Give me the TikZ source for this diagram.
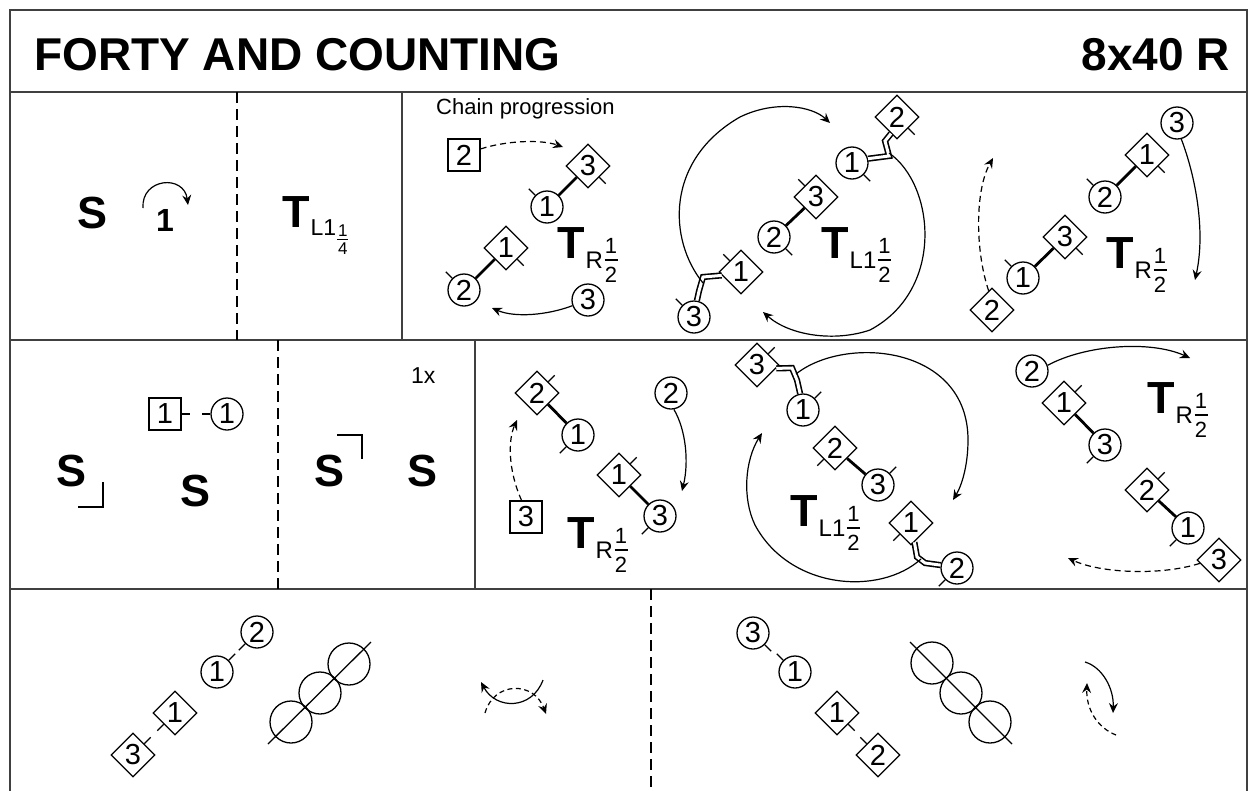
\documentclass[tikz,border=0pt]{standalone}
\usepackage{fontspec}
\setmainfont{Liberation Sans}
\usetikzlibrary{arrows.meta,shapes.geometric}
\newcommand\dig{\fontsize{29}{29}\selectfont}
\newcommand\fracbig[2]{\lower24pt\vbox{\fontsize{22}{22}\selectfont\hbox to 13pt{\hss#1\hss}\kern6pt\hrule height1.2pt\kern6pt\hbox to 13pt{\hss#2\hss}}}
\newcommand\fracsmall[2]{\lower27pt\vbox{\fontsize{17}{17}\selectfont\hbox to 11pt{\hss#1\hss}\kern2.5pt\hrule height1pt\kern2.5pt\hbox to 11pt{\hss#2\hss}}}
\newcommand\Tbig[3]{{\fontsize{45}{45}\selectfont\bfseries T}\kern1pt\raisebox{-10pt}{\fontsize{24}{24}\selectfont #1}\kern1.5pt\fracbig{#2}{#3}}
\newcommand\Tsmall[3]{{\fontsize{45}{45}\selectfont\bfseries T}\kern1pt\raisebox{-8pt}{\fontsize{23}{23}\selectfont #1}\kern1pt\fracsmall{#2}{#3}}
\newcommand\nose[2]{\draw[tk] (#1.#2) -- ++(#2:9pt);}
\begin{document}
\begin{tikzpicture}[x=1pt,y=-1pt,
  frame/.style={line width=2.2pt, draw=black!75},
  sep/.style={line width=1.4pt, dash pattern=on 11pt off 6pt},
  dc/.style={circle, draw, line width=1.3pt, minimum size=32pt, inner sep=0pt, font=\dig},
  ds/.style={rectangle, draw, line width=1.3pt, minimum size=32pt, inner sep=0pt, font=\dig},
  dd/.style={diamond, aspect=1, draw, line width=1.3pt, minimum width=44pt, minimum height=44pt, inner sep=0pt, font=\dig},
  big/.style={circle, draw, line width=1.3pt, minimum size=42pt, inner sep=0pt},
  hand/.style={line width=2.8pt},
  twin/.style={double=white, double distance=3pt, line width=1.6pt},
  tk/.style={line width=1.2pt},
  arr/.style={line width=1.2pt, -{Stealth[length=10pt,width=9pt,inset=3.5pt]}},
  darr/.style={arr, dash pattern=on 6pt off 4pt},
  bigs/.style={font=\fontsize{45}{45}\selectfont\bfseries, inner sep=0pt, anchor=base},
  tl/.style={inner sep=0pt, anchor=base west},
  corner/.style={line width=1.3pt},
]
\useasboundingbox (0,0) rectangle (1249,790);
\clip (0,0) rectangle (1249,790);
% frame
\draw[frame] (10,10) rectangle (1247,810);
\draw[frame] (10,92) -- (1247,92);
\draw[frame] (10,340) -- (1247,340);
\draw[frame] (10,589) -- (1247,589);
\draw[frame] (402,92) -- (402,340);
\draw[frame] (475,340) -- (475,589);
\draw[sep] (237,92) -- (237,340);
\draw[sep] (278,340) -- (278,589);
\draw[sep] (651,589) -- (651,800);
% header
\node[font=\fontsize{46}{46}\selectfont\bfseries, anchor=base west, inner sep=0pt] (title) at (34,70) {FORTY AND COUNTING};
\node[font=\fontsize{46}{46}\selectfont\bfseries, anchor=base east, inner sep=0pt] (code) at (1230,70) {8x40 R};
% row 1 left
\node[bigs] (s1) at (93,228) {S};
\node[font=\fontsize{32}{32}\selectfont\bfseries, anchor=base, inner sep=0pt] (n1) at (165,231) {1};
\coordinate (r_s) at (143,208);
\coordinate (r_t) at (188,205);
\draw[arr] (r_s) .. controls (141,178) and (184,174) .. (r_t);
\node[tl] (t0) at (282,227) {\Tsmall{L1}{1}{4}};
% row 1 panel a
\node[font=\fontsize{22}{22}\selectfont, anchor=base west, inner sep=0pt] (chain) at (436,114) {Chain progression};
\node[ds] (a_b2) at (464,155) {2};
\node[dd] (a_d3) at (588,166) {3};
\node[dc] (a_c1) at (547,207) {1};
\node[dd] (a_d1) at (506,248) {1};
\node[dc] (a_c2) at (464,290) {2};
\node[dc] (a_c3) at (588,300) {3};
\draw[hand] (a_c1) -- (a_d3);
\draw[hand] (a_c2) -- (a_d1);
\nose{a_d3}{-45}\nose{a_c1}{135}\nose{a_d1}{-45}\nose{a_c2}{135}
\coordinate (a_t1) at (563,147);
\coordinate (a_t2) at (492,308);
\draw[darr] (a_b2.20) .. controls (505,141) and (540,139) .. (a_t1);
\draw[arr] (a_c3.200) .. controls (548,315) and (515,318) .. (a_t2);
\node[tl] (a_T) at (557,258) {\Tbig{R}{1}{2}};
% row 1 panel b
\node[dd] (b_d2) at (897,117) {2};
\node[dc] (b_c1) at (852,163) {1};
\node[dd] (b_d3) at (816,197) {3};
\node[dc] (b_c2) at (774,237) {2};
\node[dd] (b_d1) at (741,272) {1};
\node[dc] (b_c3) at (694,317) {3};
\draw[hand] (b_c2) -- (b_d3);
\draw[twin] (b_c1.15) -- (889,156) -- (885,141) -- (b_d2.250);
\draw[twin] (b_d1.190) -- (703,277) -- (699,291) -- (b_c3.80);
\nose{b_d2}{-45}\nose{b_c1}{-45}\nose{b_d3}{135}\nose{b_c2}{-45}\nose{b_d1}{135}\nose{b_c3}{135}
\coordinate (b_s1) at (703,283);
\coordinate (b_t1) at (830,123);
\coordinate (b_s2) at (889,153);
\coordinate (b_t2) at (763,312);
\draw[arr] (b_s1) .. controls (668,240) and (665,160) .. (740,117) .. controls (775,100) and (812,106) .. (b_t1);
\draw[arr] (b_s2) .. controls (935,185) and (945,290) .. (870,330) .. controls (835,342) and (790,336) .. (b_t2);
\node[tl] (b_T) at (821,258) {\Tbig{L1}{1}{2}};
% row 1 panel c
\node[dd] (c_d2) at (992,310) {2};
\node[dc] (c_c1) at (1023,278) {1};
\node[dd] (c_d3) at (1065,237) {3};
\node[dc] (c_c2) at (1105,197) {2};
\node[dd] (c_d1) at (1147,155) {1};
\node[dc] (c_c3) at (1177,123) {3};
\draw[hand] (c_c1) -- (c_d3);
\draw[hand] (c_c2) -- (c_d1);
\nose{c_c1}{135}\nose{c_d3}{-45}\nose{c_c2}{135}\nose{c_d1}{-45}
\coordinate (c_t1) at (993,158);
\coordinate (c_t2) at (1195,280);
\draw[darr] (c_d2.100) .. controls (975,250) and (975,190) .. (c_t1);
\draw[arr] (c_c3.-75) .. controls (1195,175) and (1206,230) .. (c_t2);
\node[tl] (c_T) at (1106,268) {\Tbig{R}{1}{2}};
% row 2 left
\node[ds] (p_b1) at (165,414) {1};
\node[dc] (p_c1) at (227,414) {1};
\draw[tk] (p_b1.east) -- ++(8pt,0pt);
\draw[tk] (p_c1.west) -- ++(-8pt,0pt);
\node[bigs] (s2) at (72,486) {S};
\node[bigs] (s3) at (196,506) {S};
\node[bigs] (s4) at (330,486) {S};
\node[bigs] (s5) at (423,486) {S};
\draw[corner] (78,507) -- (103,507) -- (103,482);
\draw[corner] (337,435) -- (362,435) -- (362,459);
\node[font=\fontsize{23}{23}\selectfont, anchor=base west, inner sep=0pt] (onex) at (411,383) {1x};
% row 2 panel a
\node[dd] (d_d2) at (537,393) {2};
\node[dc] (d_c1) at (578,435) {1};
\node[dd] (d_d1) at (619,475) {1};
\node[dc] (d_c3) at (660,516) {3};
\node[ds] (d_b3) at (526,517) {3};
\node[dc] (d_c2) at (671,393) {2};
\draw[hand] (d_d2) -- (d_c1);
\draw[hand] (d_d1) -- (d_c3);
\nose{d_d2}{45}\nose{d_c1}{-135}\nose{d_d1}{45}\nose{d_c3}{-135}
\coordinate (d_t1) at (517,420);
\coordinate (d_t2) at (682,491);
\draw[darr] (d_b3.105) .. controls (508,470) and (508,440) .. (d_t1);
\draw[arr] (d_c2.-80) .. controls (686,430) and (689,462) .. (d_t2);
\node[tl] (d_T) at (567,548) {\Tbig{R}{1}{2}};
% row 2 panel b
\node[dd] (e_d3) at (757,365) {3};
\node[dc] (e_c1) at (803,410) {1};
\node[dd] (e_d2) at (835,448) {2};
\node[dc] (e_c3) at (878,485) {3};
\node[dd] (e_d1) at (911,523) {1};
\node[dc] (e_c2) at (957,568) {2};
\draw[hand] (e_d2) -- (e_c3);
\draw[twin] (e_d3.-10) -- (792,368) -- (797,380) -- (e_c1.100);
\draw[twin] (e_d1.-80) -- (917,557) -- (925,563) -- (e_c2.170);
\nose{e_d3}{45}\nose{e_c1}{45}\nose{e_d2}{-135}\nose{e_c3}{45}\nose{e_d1}{-135}\nose{e_c2}{-135}
\coordinate (e_s1) at (796,374);
\coordinate (e_t1) at (953,500);
\coordinate (e_s2) at (921,559);
\coordinate (e_t2) at (762,433);
\draw[arr] (e_s1) .. controls (845,335) and (968,345) .. (968,440) .. controls (968,465) and (962,485) .. (e_t1);
\draw[arr] (e_s2) .. controls (880,596) and (790,590) .. (755,525) .. controls (742,498) and (745,460) .. (e_t2);
\node[tl] (e_T) at (790,526) {\Tbig{L1}{1}{2}};
% row 2 panel c
\node[dc] (f_c2) at (1032,371) {2};
\node[dd] (f_d1) at (1064,403) {1};
\node[dc] (f_c3) at (1105,445) {3};
\node[dd] (f_d2) at (1147,490) {2};
\node[dc] (f_c1) at (1188,528) {1};
\node[dd] (f_d3) at (1219,560) {3};
\draw[hand] (f_d1) -- (f_c3);
\draw[hand] (f_d2) -- (f_c1);
\nose{f_d1}{45}\nose{f_c3}{-135}\nose{f_d2}{45}\nose{f_c1}{-135}
\coordinate (f_t1) at (1190,358);
\coordinate (f_t2) at (1068,558);
\draw[arr] (f_c2.20) .. controls (1085,345) and (1150,340) .. (f_t1);
\draw[darr] (f_d3.190) .. controls (1160,576) and (1100,573) .. (f_t2);
\node[tl] (f_T) at (1147,413) {\Tbig{R}{1}{2}};
% row 3 left
\node[dc] (g_c2) at (257,632) {2};
\node[dc] (g_c1) at (217,672) {1};
\node[dd] (g_d1) at (175,713) {1};
\node[dd] (g_d3) at (133,755) {3};
\nose{g_c2}{-135}\nose{g_c1}{45}\nose{g_d1}{-135}\nose{g_d3}{45}
\node[big] (g_o1) at (291,722) {};
\node[big] (g_o2) at (320,693) {};
\node[big] (g_o3) at (349,664) {};
\coordinate (g_l1) at (268,744);
\coordinate (g_l2) at (371,642);
\draw[line width=1.3pt] (g_l1) -- (g_l2);
\coordinate (g_r1) at (543,680);
\coordinate (g_r2) at (481,682);
\coordinate (g_r3) at (485,713);
\coordinate (g_r4) at (546,714);
\draw[arr] (g_r1) .. controls (532,710) and (496,710) .. (g_r2);
\draw[arr, dash pattern=on 5pt off 3.5pt] (g_r3) .. controls (494,681) and (534,681) .. (g_r4);
% row 3 right
\node[dc] (h_c3) at (753,633) {3};
\node[dc] (h_c1) at (795,672) {1};
\node[dd] (h_d1) at (837,713) {1};
\node[dd] (h_d2) at (878,755) {2};
\nose{h_c3}{-45}\nose{h_c1}{135}\nose{h_d1}{-45}\nose{h_d2}{135}
\node[big] (h_o1) at (932,663) {};
\node[big] (h_o2) at (961,693) {};
\node[big] (h_o3) at (990,722) {};
\coordinate (h_l1) at (910,642);
\coordinate (h_l2) at (1012,744);
\draw[line width=1.3pt] (h_l1) -- (h_l2);
\coordinate (h_r1) at (1085,662);
\coordinate (h_r2) at (1113,713);
\coordinate (h_r3) at (1116,735);
\coordinate (h_r4) at (1087,683);
\draw[arr] (h_r1) .. controls (1102,667) and (1114,688) .. (h_r2);
\draw[arr, dash pattern=on 5pt off 3.5pt] (h_r3) .. controls (1098,728) and (1086,710) .. (h_r4);
\end{tikzpicture}
\end{document}
